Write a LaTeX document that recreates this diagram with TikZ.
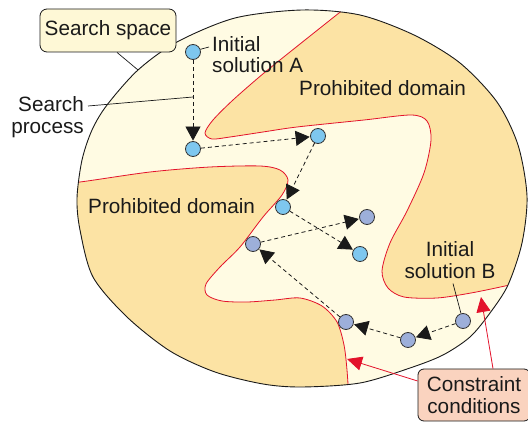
\documentclass[tikz,border=0pt]{standalone}
\usepackage{fontspec}
\setmainfont{Liberation Sans}
\usetikzlibrary{arrows.meta}
\definecolor{spacefill}{HTML}{FFFBE3}
\definecolor{banfill}{HTML}{FCE3A4}
\definecolor{edgered}{HTML}{E3122B}
\definecolor{solA}{HTML}{7EC7EF}
\definecolor{solB}{HTML}{9DAFDA}
\definecolor{tagfill}{HTML}{FEF8D6}
\definecolor{condfill}{HTML}{FAD3BF}
\definecolor{ink}{HTML}{1A1A1A}

% outline of the search space
\def\spaceoutline{plot[smooth cycle] coordinates {
  (302,10) (360,15) (414,35) (460,63) (497,102) (518,145) (527,196)
  (522,243) (508,285) (490,313) (470,337) (443,355) (410,368) (360,383)
  (302,387) (263,384) (215,372) (170,351) (127,317) (93,277) (80,230)
  (77,198) (82,160) (92,130) (107,105) (138,70) (177,42) (235,18)}}

\begin{document}
\begin{tikzpicture}[x=1pt,y=-1pt,
  font=\fontsize{20.7}{21.5}\selectfont, text=ink,
  sol/.style={circle, draw=black!80, line width=0.8pt, minimum size=15pt, inner sep=0pt},
  solnA/.style={sol, fill=solA},
  solnB/.style={sol, fill=solB},
  move/.style={dash pattern=on 4pt off 3pt, line width=0.8pt, draw=ink,
    -{Triangle[length=14pt,width=15pt]}, shorten >=0.5pt},
  boundary/.style={draw=edgered, line width=0.8pt},
  hint/.style={draw=edgered, line width=0.8pt, -{Triangle[length=15pt,width=14pt]}},
  leader/.style={draw=ink, line width=0.7pt},
  label/.style={inner sep=0pt},
  tagbox/.style={draw=ink, line width=0.8pt, rounded corners=7pt, align=center, inner sep=0pt}]

\useasboundingbox (0,0) rectangle (528,422);

% search space
\fill[spacefill] \spaceoutline;
\begin{scope}
  \clip \spaceoutline;
  % upper prohibited domain
  \fill[banfill] plot[smooth] coordinates {
    (352,3) (339,13) (300,44) (264,73) (233,100) (213,120) (205,133) (212,139)
    (230,137) (263,132) (297,127) (364,120) (411,115) (427,121) (431,140)
    (424,173) (407,211) (390,243) (382,271) (388,288) (404,297) (437,298)
    (471,293) (505,286) (535,279)} -- (545,0) -- cycle;
  \draw[boundary] plot[smooth] coordinates {
    (352,3) (339,13) (300,44) (264,73) (233,100) (213,120) (205,133) (212,139)
    (230,137) (263,132) (297,127) (364,120) (411,115) (427,121) (431,140)
    (424,173) (407,211) (390,243) (382,271) (388,288) (404,297) (437,298)
    (471,293) (505,286) (535,279)};
  % lower-left prohibited domain
  \fill[banfill] plot[smooth] coordinates {
    (60,183) (80,182) (150,172) (210,167) (260,166) (280,170) (288,180)
    (282,195) (263,217) (240,247) (220,267) (206,284) (207,295) (222,301)
    (247,302) (275,300) (300,298) (322,306) (337,322) (344,345) (347,370)
    (349,400)} -- (30,400) -- cycle;
  \draw[boundary] plot[smooth] coordinates {
    (60,183) (80,182) (150,172) (210,167) (260,166) (280,170) (288,180)
    (282,195) (263,217) (240,247) (220,267) (206,284) (207,295) (222,301)
    (247,302) (275,300) (300,298) (322,306) (337,322) (344,345) (347,370)
    (349,400)};
\end{scope}
\draw[line width=0.9pt, draw=ink] \spaceoutline;

% domain labels
\node[label, anchor=base west] (banA) at (299,96) {Prohibited domain};
\node[label, anchor=base west] (banB) at (88,214) {Prohibited domain};

% solutions
\node[solnA] (a0) at (193,52) {};
\node[solnA] (a1) at (193,149) {};
\node[solnA] (a2) at (318,136) {};
\node[solnA] (a3) at (283,207) {};
\node[solnA] (a4) at (360,254) {};
\node[solnB] (b0) at (463,321) {};
\node[solnB] (b1) at (408,340) {};
\node[solnB] (b2) at (346,322) {};
\node[solnB] (b3) at (253,244) {};
\node[solnB] (b4) at (367,217) {};

% search moves
\draw[move] (a0) -- (a1);
\draw[move] (a1) -- (a2);
\draw[move] (a2) -- (a3);
\draw[move] (a3) -- (a4);
\draw[move] (b0) -- (b1);
\draw[move] (b1) -- (b2);
\draw[move] (b2) -- (b3);
\draw[move] (b3) -- (b4);

% callouts
\node[tagbox, fill=tagfill, minimum width=136pt, minimum height=43pt] (tag) at (108,30.5) {Search space};
\coordinate (rim) at (138,70);
\draw[leader] ([xshift=9pt]tag.south) -- (rim);

\node[label, align=right, anchor=east] (proc) at (84,117) {Search\\process};
\coordinate (procEnd) at (88,106);
\coordinate (onPath) at (193,97);
\draw[leader] (procEnd) -- (onPath);

\node[label, align=left, anchor=north west] (labA) at (212,36) {Initial\\solution A};
\draw[leader] (a0.20) -- ([xshift=-3pt,yshift=-11pt]labA.north west);

\node[label, align=center] (labB) at (450,260) {Initial\\solution B};
\draw[leader] ([xshift=3pt,yshift=-5pt]labB.south) -- (b0);

\node[tagbox, fill=condfill, rounded corners=6pt, minimum width=112pt, minimum height=52pt] (cond) at (474,395) {Constraint\\conditions};
\coordinate (capA) at (347,359);
\coordinate (capB) at (481,297);
\draw[hint] ([yshift=14pt]cond.west) -- (capA);
\draw[hint] ([xshift=19pt]cond.north) -- (capB);
\end{tikzpicture}
\end{document}
